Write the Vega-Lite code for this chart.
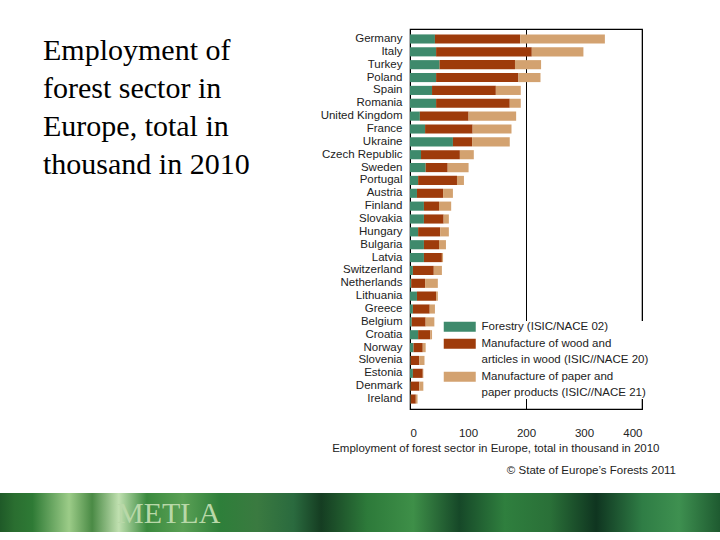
{
  "$schema": "https://vega.github.io/schema/vega-lite/v6.json",
  "background": "white",
  "padding": {"left": 0, "right": 0, "top": 23, "bottom": 9},
  "config": {"view": {"stroke": null}, "font": "Liberation Sans"},
  "spacing": 15,
  "vconcat": [
    {
      "spacing": 69,
      "hconcat": [
        {
          "width": 230,
          "height": 1,
          "data": {"values": [{}]},
          "mark": {"type": "text"},
          "encoding": {"text": {"value": ""}},
          "title": {
            "text": ["Employment of", "forest sector in", "Europe, total in", "thousand in 2010"],
            "orient": "bottom",
            "anchor": "start",
            "dx": 43,
            "font": "Liberation Serif",
            "fontSize": 30,
            "fontWeight": "normal",
            "lineHeight": 38,
            "color": "black",
            "baseline": "top",
            "offset": 1
          }
        },
        {
          "width": 232,
          "height": 380,
          "view": {"stroke": "black", "strokeWidth": 1.2},
          "title": {
            "text": "© State of Europe’s Forests 2011",
            "orient": "bottom",
            "anchor": "end",
            "dx": 17,
            "offset": 11,
            "fontSize": 11.5,
            "fontWeight": "normal",
            "color": "#222"
          },
          "data": {"values": [
            {"country": "Germany", "sector": "Forestry (ISIC/NACE 02)", "nace": 2, "value": 43},
            {"country": "Germany", "sector": "Manufacture of wood and articles in wood (ISIC//NACE 20)", "nace": 20, "value": 147},
            {"country": "Germany", "sector": "Manufacture of paper and paper products (ISIC//NACE 21)", "nace": 21, "value": 146},
            {"country": "Italy", "sector": "Forestry (ISIC/NACE 02)", "nace": 2, "value": 45},
            {"country": "Italy", "sector": "Manufacture of wood and articles in wood (ISIC//NACE 20)", "nace": 20, "value": 165},
            {"country": "Italy", "sector": "Manufacture of paper and paper products (ISIC//NACE 21)", "nace": 21, "value": 89},
            {"country": "Turkey", "sector": "Forestry (ISIC/NACE 02)", "nace": 2, "value": 51},
            {"country": "Turkey", "sector": "Manufacture of wood and articles in wood (ISIC//NACE 20)", "nace": 20, "value": 130},
            {"country": "Turkey", "sector": "Manufacture of paper and paper products (ISIC//NACE 21)", "nace": 21, "value": 45},
            {"country": "Poland", "sector": "Forestry (ISIC/NACE 02)", "nace": 2, "value": 45},
            {"country": "Poland", "sector": "Manufacture of wood and articles in wood (ISIC//NACE 20)", "nace": 20, "value": 142},
            {"country": "Poland", "sector": "Manufacture of paper and paper products (ISIC//NACE 21)", "nace": 21, "value": 38},
            {"country": "Spain", "sector": "Forestry (ISIC/NACE 02)", "nace": 2, "value": 38},
            {"country": "Spain", "sector": "Manufacture of wood and articles in wood (ISIC//NACE 20)", "nace": 20, "value": 110},
            {"country": "Spain", "sector": "Manufacture of paper and paper products (ISIC//NACE 21)", "nace": 21, "value": 43},
            {"country": "Romania", "sector": "Forestry (ISIC/NACE 02)", "nace": 2, "value": 45},
            {"country": "Romania", "sector": "Manufacture of wood and articles in wood (ISIC//NACE 20)", "nace": 20, "value": 127},
            {"country": "Romania", "sector": "Manufacture of paper and paper products (ISIC//NACE 21)", "nace": 21, "value": 19},
            {"country": "United Kingdom", "sector": "Forestry (ISIC/NACE 02)", "nace": 2, "value": 17},
            {"country": "United Kingdom", "sector": "Manufacture of wood and articles in wood (ISIC//NACE 20)", "nace": 20, "value": 84},
            {"country": "United Kingdom", "sector": "Manufacture of paper and paper products (ISIC//NACE 21)", "nace": 21, "value": 82},
            {"country": "France", "sector": "Forestry (ISIC/NACE 02)", "nace": 2, "value": 26},
            {"country": "France", "sector": "Manufacture of wood and articles in wood (ISIC//NACE 20)", "nace": 20, "value": 82},
            {"country": "France", "sector": "Manufacture of paper and paper products (ISIC//NACE 21)", "nace": 21, "value": 67},
            {"country": "Ukraine", "sector": "Forestry (ISIC/NACE 02)", "nace": 2, "value": 74},
            {"country": "Ukraine", "sector": "Manufacture of wood and articles in wood (ISIC//NACE 20)", "nace": 20, "value": 33},
            {"country": "Ukraine", "sector": "Manufacture of paper and paper products (ISIC//NACE 21)", "nace": 21, "value": 65},
            {"country": "Czech Republic", "sector": "Forestry (ISIC/NACE 02)", "nace": 2, "value": 19},
            {"country": "Czech Republic", "sector": "Manufacture of wood and articles in wood (ISIC//NACE 20)", "nace": 20, "value": 67},
            {"country": "Czech Republic", "sector": "Manufacture of paper and paper products (ISIC//NACE 21)", "nace": 21, "value": 24},
            {"country": "Sweden", "sector": "Forestry (ISIC/NACE 02)", "nace": 2, "value": 27},
            {"country": "Sweden", "sector": "Manufacture of wood and articles in wood (ISIC//NACE 20)", "nace": 20, "value": 38},
            {"country": "Sweden", "sector": "Manufacture of paper and paper products (ISIC//NACE 21)", "nace": 21, "value": 36},
            {"country": "Portugal", "sector": "Forestry (ISIC/NACE 02)", "nace": 2, "value": 14},
            {"country": "Portugal", "sector": "Manufacture of wood and articles in wood (ISIC//NACE 20)", "nace": 20, "value": 67},
            {"country": "Portugal", "sector": "Manufacture of paper and paper products (ISIC//NACE 21)", "nace": 21, "value": 12},
            {"country": "Austria", "sector": "Forestry (ISIC/NACE 02)", "nace": 2, "value": 12},
            {"country": "Austria", "sector": "Manufacture of wood and articles in wood (ISIC//NACE 20)", "nace": 20, "value": 45},
            {"country": "Austria", "sector": "Manufacture of paper and paper products (ISIC//NACE 21)", "nace": 21, "value": 17},
            {"country": "Finland", "sector": "Forestry (ISIC/NACE 02)", "nace": 2, "value": 24},
            {"country": "Finland", "sector": "Manufacture of wood and articles in wood (ISIC//NACE 20)", "nace": 20, "value": 26},
            {"country": "Finland", "sector": "Manufacture of paper and paper products (ISIC//NACE 21)", "nace": 21, "value": 21},
            {"country": "Slovakia", "sector": "Forestry (ISIC/NACE 02)", "nace": 2, "value": 24},
            {"country": "Slovakia", "sector": "Manufacture of wood and articles in wood (ISIC//NACE 20)", "nace": 20, "value": 34},
            {"country": "Slovakia", "sector": "Manufacture of paper and paper products (ISIC//NACE 21)", "nace": 21, "value": 9},
            {"country": "Hungary", "sector": "Forestry (ISIC/NACE 02)", "nace": 2, "value": 14},
            {"country": "Hungary", "sector": "Manufacture of wood and articles in wood (ISIC//NACE 20)", "nace": 20, "value": 38},
            {"country": "Hungary", "sector": "Manufacture of paper and paper products (ISIC//NACE 21)", "nace": 21, "value": 15},
            {"country": "Bulgaria", "sector": "Forestry (ISIC/NACE 02)", "nace": 2, "value": 24},
            {"country": "Bulgaria", "sector": "Manufacture of wood and articles in wood (ISIC//NACE 20)", "nace": 20, "value": 26},
            {"country": "Bulgaria", "sector": "Manufacture of paper and paper products (ISIC//NACE 21)", "nace": 21, "value": 12},
            {"country": "Latvia", "sector": "Forestry (ISIC/NACE 02)", "nace": 2, "value": 24},
            {"country": "Latvia", "sector": "Manufacture of wood and articles in wood (ISIC//NACE 20)", "nace": 20, "value": 31},
            {"country": "Latvia", "sector": "Manufacture of paper and paper products (ISIC//NACE 21)", "nace": 21, "value": 2},
            {"country": "Switzerland", "sector": "Forestry (ISIC/NACE 02)", "nace": 2, "value": 5},
            {"country": "Switzerland", "sector": "Manufacture of wood and articles in wood (ISIC//NACE 20)", "nace": 20, "value": 36},
            {"country": "Switzerland", "sector": "Manufacture of paper and paper products (ISIC//NACE 21)", "nace": 21, "value": 14},
            {"country": "Netherlands", "sector": "Forestry (ISIC/NACE 02)", "nace": 2, "value": 2},
            {"country": "Netherlands", "sector": "Manufacture of wood and articles in wood (ISIC//NACE 20)", "nace": 20, "value": 24},
            {"country": "Netherlands", "sector": "Manufacture of paper and paper products (ISIC//NACE 21)", "nace": 21, "value": 22},
            {"country": "Lithuania", "sector": "Forestry (ISIC/NACE 02)", "nace": 2, "value": 12},
            {"country": "Lithuania", "sector": "Manufacture of wood and articles in wood (ISIC//NACE 20)", "nace": 20, "value": 33},
            {"country": "Lithuania", "sector": "Manufacture of paper and paper products (ISIC//NACE 21)", "nace": 21, "value": 3},
            {"country": "Greece", "sector": "Forestry (ISIC/NACE 02)", "nace": 2, "value": 5},
            {"country": "Greece", "sector": "Manufacture of wood and articles in wood (ISIC//NACE 20)", "nace": 20, "value": 29},
            {"country": "Greece", "sector": "Manufacture of paper and paper products (ISIC//NACE 21)", "nace": 21, "value": 9},
            {"country": "Belgium", "sector": "Forestry (ISIC/NACE 02)", "nace": 2, "value": 3},
            {"country": "Belgium", "sector": "Manufacture of wood and articles in wood (ISIC//NACE 20)", "nace": 20, "value": 24},
            {"country": "Belgium", "sector": "Manufacture of paper and paper products (ISIC//NACE 21)", "nace": 21, "value": 15},
            {"country": "Croatia", "sector": "Forestry (ISIC/NACE 02)", "nace": 2, "value": 14},
            {"country": "Croatia", "sector": "Manufacture of wood and articles in wood (ISIC//NACE 20)", "nace": 20, "value": 21},
            {"country": "Croatia", "sector": "Manufacture of paper and paper products (ISIC//NACE 21)", "nace": 21, "value": 3},
            {"country": "Norway", "sector": "Forestry (ISIC/NACE 02)", "nace": 2, "value": 6},
            {"country": "Norway", "sector": "Manufacture of wood and articles in wood (ISIC//NACE 20)", "nace": 20, "value": 16},
            {"country": "Norway", "sector": "Manufacture of paper and paper products (ISIC//NACE 21)", "nace": 21, "value": 5},
            {"country": "Slovenia", "sector": "Forestry (ISIC/NACE 02)", "nace": 2, "value": 1},
            {"country": "Slovenia", "sector": "Manufacture of wood and articles in wood (ISIC//NACE 20)", "nace": 20, "value": 15},
            {"country": "Slovenia", "sector": "Manufacture of paper and paper products (ISIC//NACE 21)", "nace": 21, "value": 9},
            {"country": "Estonia", "sector": "Forestry (ISIC/NACE 02)", "nace": 2, "value": 5},
            {"country": "Estonia", "sector": "Manufacture of wood and articles in wood (ISIC//NACE 20)", "nace": 20, "value": 17},
            {"country": "Estonia", "sector": "Manufacture of paper and paper products (ISIC//NACE 21)", "nace": 21, "value": 1},
            {"country": "Denmark", "sector": "Forestry (ISIC/NACE 02)", "nace": 2, "value": 1},
            {"country": "Denmark", "sector": "Manufacture of wood and articles in wood (ISIC//NACE 20)", "nace": 20, "value": 15},
            {"country": "Denmark", "sector": "Manufacture of paper and paper products (ISIC//NACE 21)", "nace": 21, "value": 7},
            {"country": "Ireland", "sector": "Forestry (ISIC/NACE 02)", "nace": 2, "value": 1},
            {"country": "Ireland", "sector": "Manufacture of wood and articles in wood (ISIC//NACE 20)", "nace": 20, "value": 9},
            {"country": "Ireland", "sector": "Manufacture of paper and paper products (ISIC//NACE 21)", "nace": 21, "value": 3}
          ]},
          "mark": {"type": "bar"},
          "encoding": {
            "y": {
              "field": "country",
              "type": "nominal",
              "title": null,
              "sort": ["Germany", "Italy", "Turkey", "Poland", "Spain", "Romania", "United Kingdom", "France", "Ukraine", "Czech Republic", "Sweden", "Portugal", "Austria", "Finland", "Slovakia", "Hungary", "Bulgaria", "Latvia", "Switzerland", "Netherlands", "Lithuania", "Greece", "Belgium", "Croatia", "Norway", "Slovenia", "Estonia", "Denmark", "Ireland"],
              "scale": {"paddingInner": 0.29, "paddingOuter": 0.42},
              "axis": {"ticks": false, "domain": false, "labelPadding": 8, "labelFontSize": 11.5, "labelColor": "#222"}
            },
            "x": {
              "field": "value",
              "type": "quantitative",
              "stack": "zero",
              "scale": {"domain": [0, 400], "nice": false},
              "axis": {
                "values": [0, 100, 200, 300, 400],
                "title": "Employment of forest sector in Europe, total in thousand in 2010",
                "titleFontSize": 11.5,
                "titleFontWeight": "normal",
                "titleColor": "#222",
                "titlePadding": 4,
                "titleX": 249,
                "titleAnchor": "end",
                "titleAlign": "right",
                "labelFontSize": 11.5,
                "labelColor": "#222",
                "labelPadding": 23,
                "domain": false,
                "grid": true,
                "gridColor": "black",
                "gridOpacity": {"condition": {"test": "datum.value % 200 !== 0", "value": 0}, "value": 1},
                "tickColor": "black",
                "tickSize": -5,
                "tickOpacity": {"condition": {"test": "datum.value % 200 !== 0", "value": 0}, "value": 1}
              }
            },
            "color": {
              "field": "sector",
              "type": "nominal",
              "scale": {
                "domain": ["Forestry (ISIC/NACE 02)", "Manufacture of wood and articles in wood (ISIC//NACE 20)", "Manufacture of paper and paper products (ISIC//NACE 21)"],
                "range": ["#3e8a6c", "#9e3b0b", "#d3a270"]
              },
              "legend": {
                "title": null,
                "orient": "none",
                "legendX": 454,
                "legendY": 292,
                "fillColor": "white",
                "symbolType": "M-3.2,-1H3.2V1H-3.2Z",
                "symbolSize": 100,
                "symbolStrokeWidth": 0,
                "symbolOpacity": 1,
                "labelFontSize": 11.5,
                "labelColor": "#222",
                "labelLimit": 300,
                "labelOffset": 16,
                "rowPadding": 4,
                "labelExpr": "split(replace(datum.label, ' and ', ' and|'), '|')",
                "encode": {"labels": {"update": {"lineHeight": {"value": 16}}}}
              }
            },
            "order": {"field": "nace", "type": "quantitative"}
          }
        }
      ]
    },
    {
      "width": 720,
      "height": 39,
      "view": {
        "stroke": null,
        "fill": {
          "gradient": "linear",
          "x1": 0, "x2": 1, "y1": 0, "y2": 0,
          "stops": [
            {"offset": 0, "color": "#1f5a28"},
            {"offset": 0.02, "color": "#2a6e30"},
            {"offset": 0.045, "color": "#2e7a35"},
            {"offset": 0.096, "color": "#9ccc88"},
            {"offset": 0.128, "color": "#4a8a45"},
            {"offset": 0.165, "color": "#c0e0b0"},
            {"offset": 0.204, "color": "#3a8a3e"},
            {"offset": 0.254, "color": "#5aa055"},
            {"offset": 0.306, "color": "#2e7f3a"},
            {"offset": 0.357, "color": "#3a7a40"},
            {"offset": 0.408, "color": "#2a6a3e"},
            {"offset": 0.446, "color": "#153d22"},
            {"offset": 0.51, "color": "#2d7a3a"},
            {"offset": 0.574, "color": "#3e8f48"},
            {"offset": 0.638, "color": "#164828"},
            {"offset": 0.701, "color": "#2f7f3e"},
            {"offset": 0.764, "color": "#2a7038"},
            {"offset": 0.828, "color": "#0f3520"},
            {"offset": 0.892, "color": "#2f7d45"},
            {"offset": 0.943, "color": "#3e9050"},
            {"offset": 1, "color": "#1e5a30"}
          ]
        }
      },
      "title": {
        "text": "METLA",
        "anchor": "start",
        "dx": 117,
        "offset": -36,
        "font": "Liberation Serif",
        "fontSize": 30,
        "fontWeight": "normal",
        "color": "#b8d8a8"
      },
      "data": {"values": [{}]},
      "mark": {"type": "text"},
      "encoding": {"text": {"value": ""}}
    }
  ]
}
